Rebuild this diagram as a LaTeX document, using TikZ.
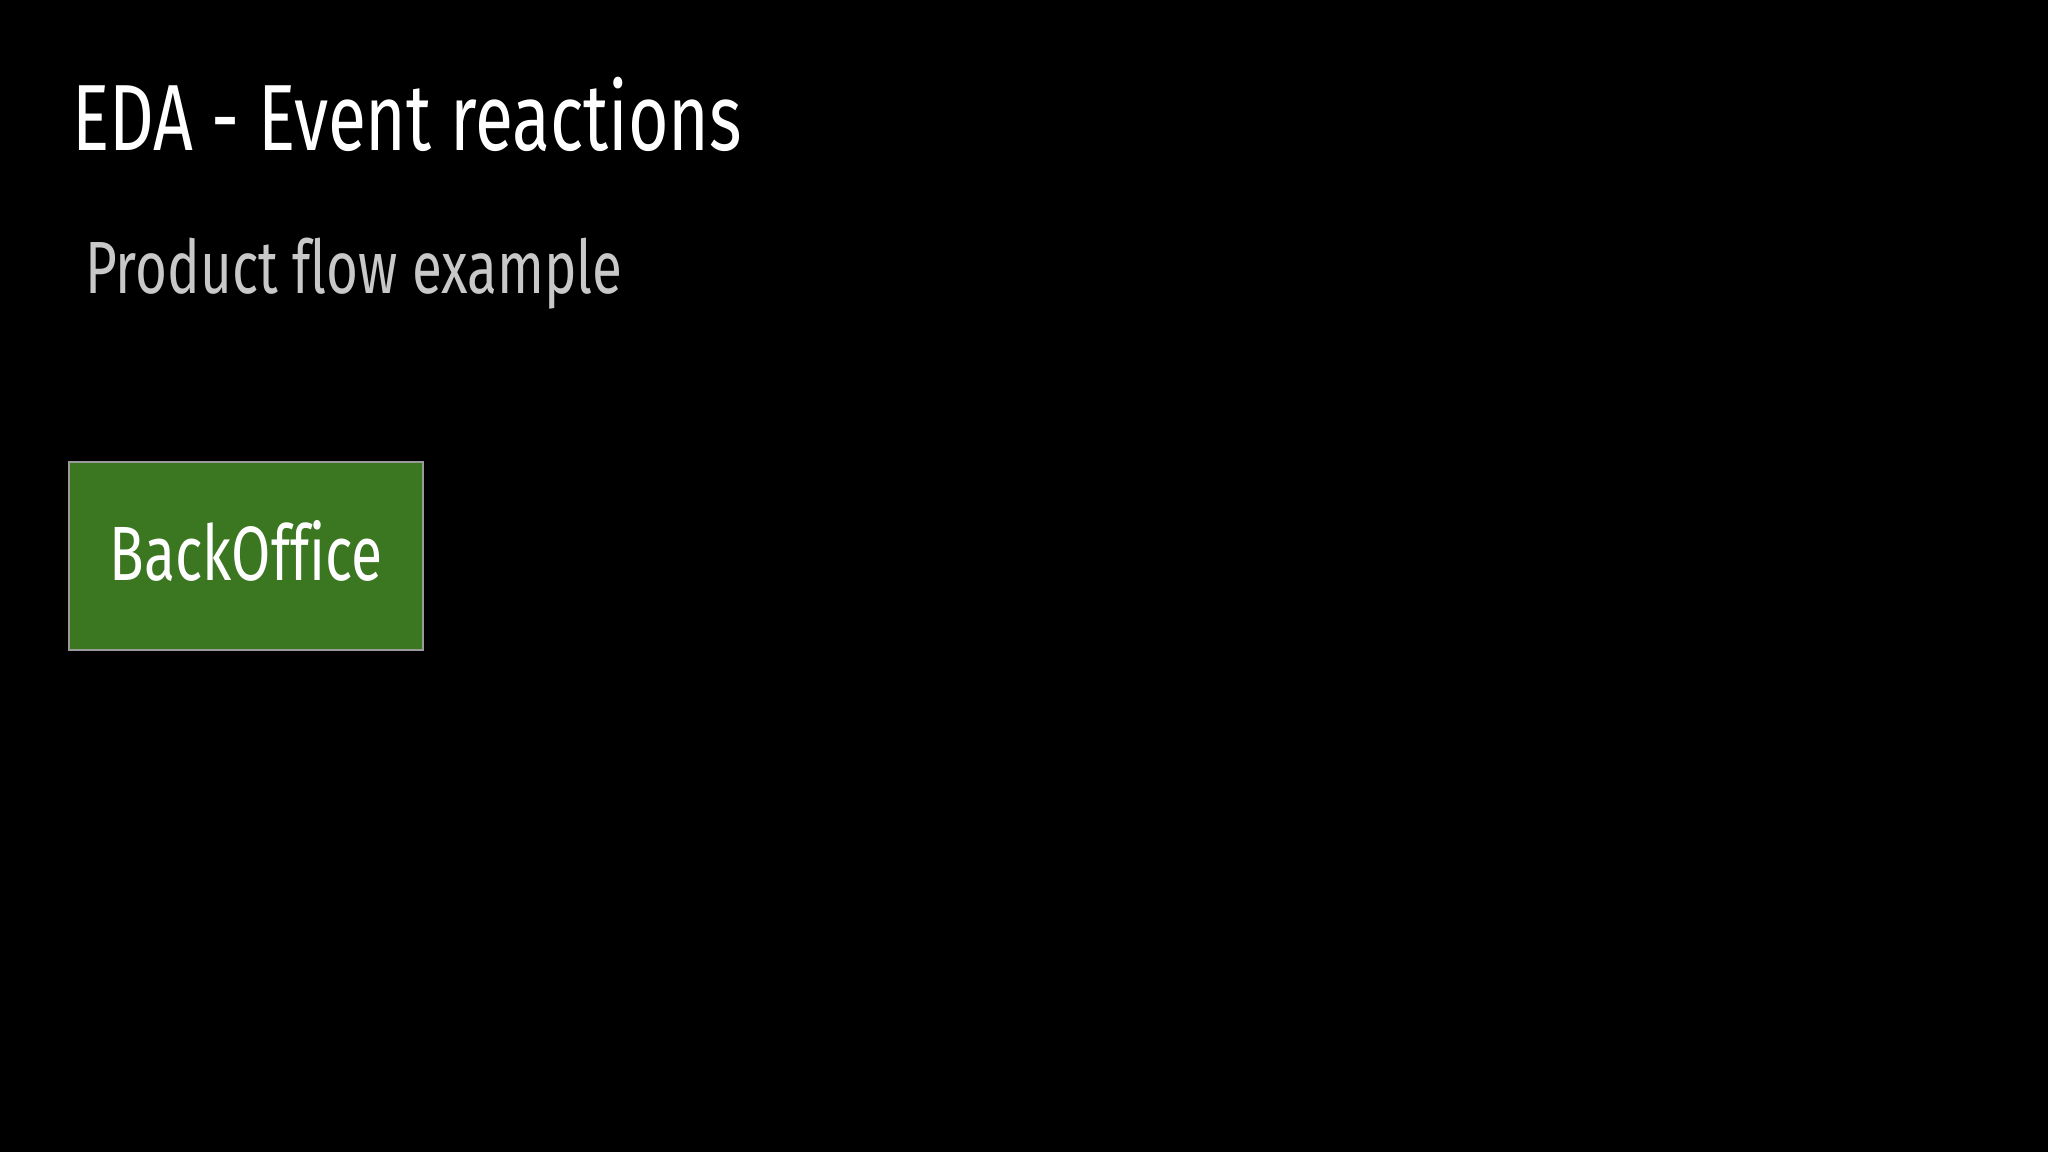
\documentclass[tikz,border=0pt]{standalone}
\usepackage{fontspec}
\setmainfont[FakeStretch=0.74, Ligatures=NoCommon]{Fira Sans}
\usepackage{xcolor}
\usepackage{tikz}

\definecolor{slidegray}{HTML}{C8C8C8}
\definecolor{boxgreen}{HTML}{3B7621}
\definecolor{boxedge}{HTML}{9A9A9A}

\tikzset{
  slidetext/.style={anchor=base west, inner sep=0pt},
  servicebox/.style={draw=boxedge, line width=1.5pt, fill=boxgreen, text=white,
    minimum width=354pt, minimum height=188pt, inner sep=0pt, text depth=12pt,
    font=\fontsize{77}{80}\selectfont}
}

\begin{document}
\begin{tikzpicture}[x=1pt, y=-1pt]
  % Slide background
  \fill[black] (0,0) rectangle (2048,1152);
  \useasboundingbox (0,0) rectangle (2048,1152);

  % Title and subtitle
  \node[slidetext, text=white, font=\fontsize{94}{98}\selectfont] (title) at (72,150) {EDA - Event reactions};
  \node[slidetext, text=slidegray, font=\fontsize{74}{78}\selectfont] (subtitle) at (85,293) {Product flow example};

  % The one service box
  \node[servicebox] (backoffice) at (246,556) {BackOffice};
\end{tikzpicture}
\end{document}
